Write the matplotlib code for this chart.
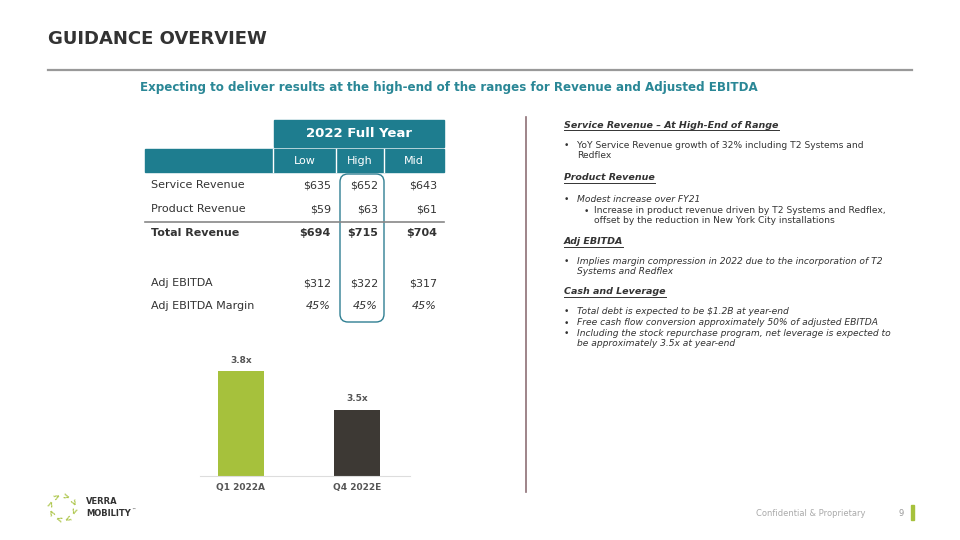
import numpy as np
import matplotlib.pyplot as plt
from matplotlib.patches import Rectangle, FancyBboxPatch

# data
col_heads = ['Low', 'High', 'Mid']
row_labels = ['Service Revenue', 'Product Revenue', 'Total Revenue', '', 'Adj EBITDA', 'Adj EBITDA Margin']
low_vals = ['$635', '$59', '$694', '', '$312', '45%']
high_vals = ['$652', '$63', '$715', '', '$322', '45%']
mid_vals = ['$643', '$61', '$704', '', '$317', '45%']

bar_cats = ['Q1 2022A', 'Q4 2022E']
leverage = [3.8, 3.5]

notes = [
    ('head', 'Service Revenue \u2013 At High-End of Range'),
    ('b', 'YoY Service Revenue growth of 32% including T2 Systems and\nRedflex'),
    ('head', 'Product Revenue'),
    ('bi', 'Modest increase over FY21'),
    ('sb', 'Increase in product revenue driven by T2 Systems and Redflex,\noffset by the reduction in New York City installations'),
    ('head', 'Adj EBITDA'),
    ('bi', 'Implies margin compression in 2022 due to the incorporation of T2\nSystems and Redflex'),
    ('head', 'Cash and Leverage'),
    ('bi', 'Total debt is expected to be $1.2B at year-end'),
    ('bi', 'Free cash flow conversion approximately 50% of adjusted EBITDA'),
    ('bi', 'Including the stock repurchase program, net leverage is expected to\nbe approximately 3.5x at year-end'),
]
note_y = [125, 146, 178, 200, 211, 242, 262, 292, 312, 323, 334]

teal = '#1e7d8f'
dark = '#333333'
W, H = 960, 540

fig = plt.figure(figsize=(9.6, 5.4), dpi=100)
ax = fig.add_axes([0, 0, 1, 1])
ax.set_xlim(0, W)
ax.set_ylim(H, 0)
ax.axis('off')

# title and rule
ax.text(48, 39, 'GUIDANCE OVERVIEW', fontsize=13, fontweight='bold', color=dark, va='center')
ax.plot([48, 912], [70, 70], color='#999999', lw=1.6)
ax.text(449, 87, 'Expecting to deliver results at the high-end of the ranges for Revenue and Adjusted EBITDA',
        fontsize=8.6, fontweight='bold', color='#2a8796', ha='center', va='center')

# table header
ax.add_patch(Rectangle((274, 120), 170, 27, color=teal))
ax.text(359, 133.5, '2022 Full Year', color='white', fontsize=9.5, fontweight='bold', ha='center', va='center')
ax.add_patch(Rectangle((145, 149), 299, 23, color=teal))
for xb in [273, 336, 384]:
    ax.plot([xb, xb], [149, 172], color='white', lw=1)
col_centers = [305, 360, 414]
for xc, h in zip(col_centers, col_heads):
    ax.text(xc, 161, h, color='white', fontsize=8, ha='center', va='center')

row_y = [185, 209, 233, 258, 283, 306]
val_x = [331, 378, 437]
for i, lab in enumerate(row_labels):
    bold = (lab == 'Total Revenue')
    ital = (lab == 'Adj EBITDA Margin')
    ax.text(151, row_y[i], lab, fontsize=8, color=dark, va='center',
            fontweight='bold' if bold else 'normal')
    for xv, vals in zip(val_x, [low_vals, high_vals, mid_vals]):
        ax.text(xv, row_y[i], vals[i], fontsize=8, color=dark, ha='right', va='center',
                fontweight='bold' if bold else 'normal', style='italic' if ital else 'normal')
ax.plot([145, 444], [221.5, 221.5], color='#888888', lw=1.2)

# highlight around High column
ax.add_patch(FancyBboxPatch((340, 174), 44, 148, boxstyle='round,pad=0,rounding_size=8',
                            fill=False, ec='#2f7f92', lw=1.0))

# divider
ax.plot([526, 526], [117, 492], color='#8d6f76', lw=1.2)

# right-side notes
for (kind, txt), y in zip(notes, note_y):
    if kind == 'head':
        t = ax.text(564, y, txt, fontsize=6.8, fontweight='bold', style='italic', color=dark, va='center')
        # underline
        fig.canvas.draw()
        bb = t.get_window_extent()
        ax.plot([564, 564 + bb.width], [y + 4.5, y + 4.5], color=dark, lw=0.7)
    elif kind == 'sb':
        ax.text(584, y, '\u2022', fontsize=6.5, color=dark, va='center')
        ax.text(594, y - 5, txt, fontsize=6.6, color=dark, va='top', linespacing=1.2)
    else:
        ax.text(564, y, '\u2022', fontsize=6.5, color=dark, va='center')
        ax.text(577, y - 5, txt, fontsize=6.6, color=dark, va='top', linespacing=1.2,
                style='italic' if kind == 'bi' else 'normal')

# leverage bar chart
bax = fig.add_axes([200 / W, 1 - 476 / H, 210 / W, 136 / H])
xpos = np.arange(len(bar_cats))
bars = bax.bar(xpos, leverage, width=0.40, color=['#a6c13c', '#3d3934'])
bax.set_ylim(2.99, 4.04)
bax.set_xlim(-0.353, 1.457)
for s in ['top', 'right', 'left']:
    bax.spines[s].set_visible(False)
bax.spines['bottom'].set_color('#dddddd')
bax.set_yticks([])
bax.set_xticks(xpos)
bax.set_xticklabels(bar_cats, fontsize=6.5, fontweight='bold', color='#555555')
bax.tick_params(axis='x', length=0, pad=5)
for b, v in zip(bars, leverage):
    bax.text(b.get_x() + b.get_width() / 2, v + 0.05, f'{v:.1f}x', ha='center', va='bottom',
             fontsize=6.5, fontweight='bold', color='#555555')

# logo
ang = np.linspace(0, 2 * np.pi, 9)[:-1] + 0.3
for a in ang:
    ax.text(62 + 14 * np.cos(a), 507 + 14 * np.sin(a), '<', fontsize=6, color='#a6c13c',
            ha='center', va='center', rotation=np.degrees(-a) + 90, fontweight='bold')
ax.text(86, 502, 'VERRA', fontsize=6, color=dark, va='center', fontweight='bold')
ax.text(86, 513, 'MOBILITY', fontsize=6, color=dark, va='center', fontweight='bold')
ax.text(131, 510, '\u2122', fontsize=3, color=dark, va='center')

# footer
ax.text(865, 513, 'Confidential & Proprietary', fontsize=6, color='#aaaaaa', ha='right', va='center')
ax.text(901, 513, '9', fontsize=6, color='#999999', ha='center', va='center')
ax.add_patch(Rectangle((911, 505), 2.5, 15, color='#a6c13c'))

fig.savefig('out.png', dpi=100)
